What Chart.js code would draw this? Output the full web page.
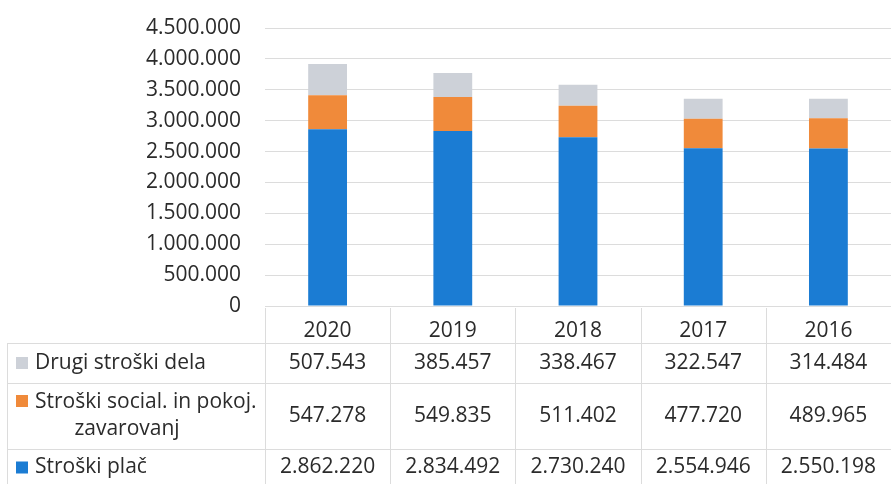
<!DOCTYPE html>
<html>
<head>
<meta charset="utf-8">
<script src="https://cdn.jsdelivr.net/npm/chart.js@4"></script>
<style>
  html,body{margin:0;padding:0;background:#fff}
  #wrap{width:891px;height:484px;position:relative}
</style>
</head>
<body>
<div id="wrap"><canvas id="chart" width="891" height="484"></canvas></div>
<script>
const years = ['2020','2019','2018','2017','2016'];
const placeLabel = 'Stroški plač';
const placeValues = [2862220, 2834492, 2730240, 2554946, 2550198];
const socialLabel = ['Stroški social. in pokoj.', 'zavarovanj'];
const socialValues = [547278, 549835, 511402, 477720, 489965];
const otherLabel = 'Drugi stroški dela';
const otherValues = [507543, 385457, 338467, 322547, 314484];
const yTicks = [0, 500000, 1000000, 1500000, 2000000, 2500000, 3000000, 3500000, 4000000, 4500000];

const FONT = '"Open Sans", sans-serif';
const TEXT = '#2b2b2b';
const LINE = '#dcdcdc';

function fmt(v){
  return String(v).replace(/\B(?=(\d{3})+(?!\d))/g, '.');
}

// rows of the data table under the axis, top to bottom
const tableRows = [
  {label:[otherLabel], values:otherValues, color:'#cdd1d8', top:343, bottom:383},
  {label:socialLabel, values:socialValues, color:'#f08a3a', top:383, bottom:449},
  {label:[placeLabel], values:placeValues, color:'#1b7cd3', top:449, bottom:486}
];

const dataTable = {
  id:'dataTable',
  afterDraw(chart){
    const ctx = chart.ctx;
    const x = chart.scales.x;
    const area = chart.chartArea;
    const step = x.getPixelForValue(1) - x.getPixelForValue(0);
    ctx.save();
    ctx.strokeStyle = LINE;
    ctx.lineWidth = 1;
    // column borders
    for(let i=0;i<=years.length;i++){
      const cx = Math.round(x.getPixelForValue(0) - step/2 + i*step) + 0.5;
      ctx.beginPath();ctx.moveTo(cx, area.bottom+2);ctx.lineTo(cx, 484);ctx.stroke();
    }
    ctx.beginPath();ctx.moveTo(7.5, 343);ctx.lineTo(7.5, 484);ctx.stroke();
    tableRows.forEach(r=>{
      ctx.beginPath();ctx.moveTo(7, r.top+0.5);ctx.lineTo(891, r.top+0.5);ctx.stroke();
    });
    ctx.font = '21px ' + FONT;
    ctx.textBaseline = 'middle';
    tableRows.forEach(r=>{
      const mid = (r.top + r.bottom)/2;
      // legend key + label
      if(r.label.length === 1){
        ctx.fillStyle = r.color;
        ctx.fillRect(16, mid-6, 12, 12);
        ctx.fillStyle = TEXT;
        ctx.textAlign = 'left';
        ctx.fillText(r.label[0], 35, mid);
      } else {
        ctx.fillStyle = r.color;
        ctx.fillRect(16, mid-21, 12, 12);
        ctx.fillStyle = TEXT;
        ctx.textAlign = 'left';
        ctx.fillText(r.label[0], 35, mid-14);
        ctx.textAlign = 'center';
        ctx.fillText(r.label[1], 127, mid+13);
      }
      ctx.textAlign = 'center';
      r.values.forEach((v,i)=>{
        ctx.fillText(fmt(v), x.getPixelForValue(i), mid);
      });
    });
    ctx.restore();
  }
};

new Chart(document.getElementById('chart'), {
  type:'bar',
  data:{
    labels:years,
    datasets:[
      {label:placeLabel, data:placeValues, backgroundColor:'#1b7cd3'},
      {label:socialLabel.join(' '), data:socialValues, backgroundColor:'#f08a3a'},
      {label:otherLabel, data:otherValues, backgroundColor:'#cdd1d8'}
    ]
  },
  options:{
    responsive:false,
    animation:false,
    layout:{padding:{top:28, right:0, left:0, bottom:0}},
    datasets:{bar:{barPercentage:0.62, categoryPercentage:0.5}},
    plugins:{legend:{display:false}, tooltip:{enabled:false}},
    scales:{
      x:{
        stacked:true,
        grid:{display:false},
        border:{display:false},
        ticks:{color:TEXT, font:{family:FONT, size:21}, padding:4},
        afterFit(s){ s.height = 178; }
      },
      y:{
        stacked:true,
        min:0, max:4500000,
        afterBuildTicks(s){ s.ticks = yTicks.map(v=>({value:v})); },
        grid:{color:LINE, drawTicks:false},
        border:{display:false},
        ticks:{color:TEXT, font:{family:FONT, size:21}, padding:24, callback:v=>fmt(v)},
        // keep the plot top at the layout padding, labels may overhang
        afterFit(s){ s.width = 265; s.paddingTop = 0; s.paddingBottom = 0; }
      }
    }
  },
  plugins:[dataTable]
});
</script>
</body>
</html>
